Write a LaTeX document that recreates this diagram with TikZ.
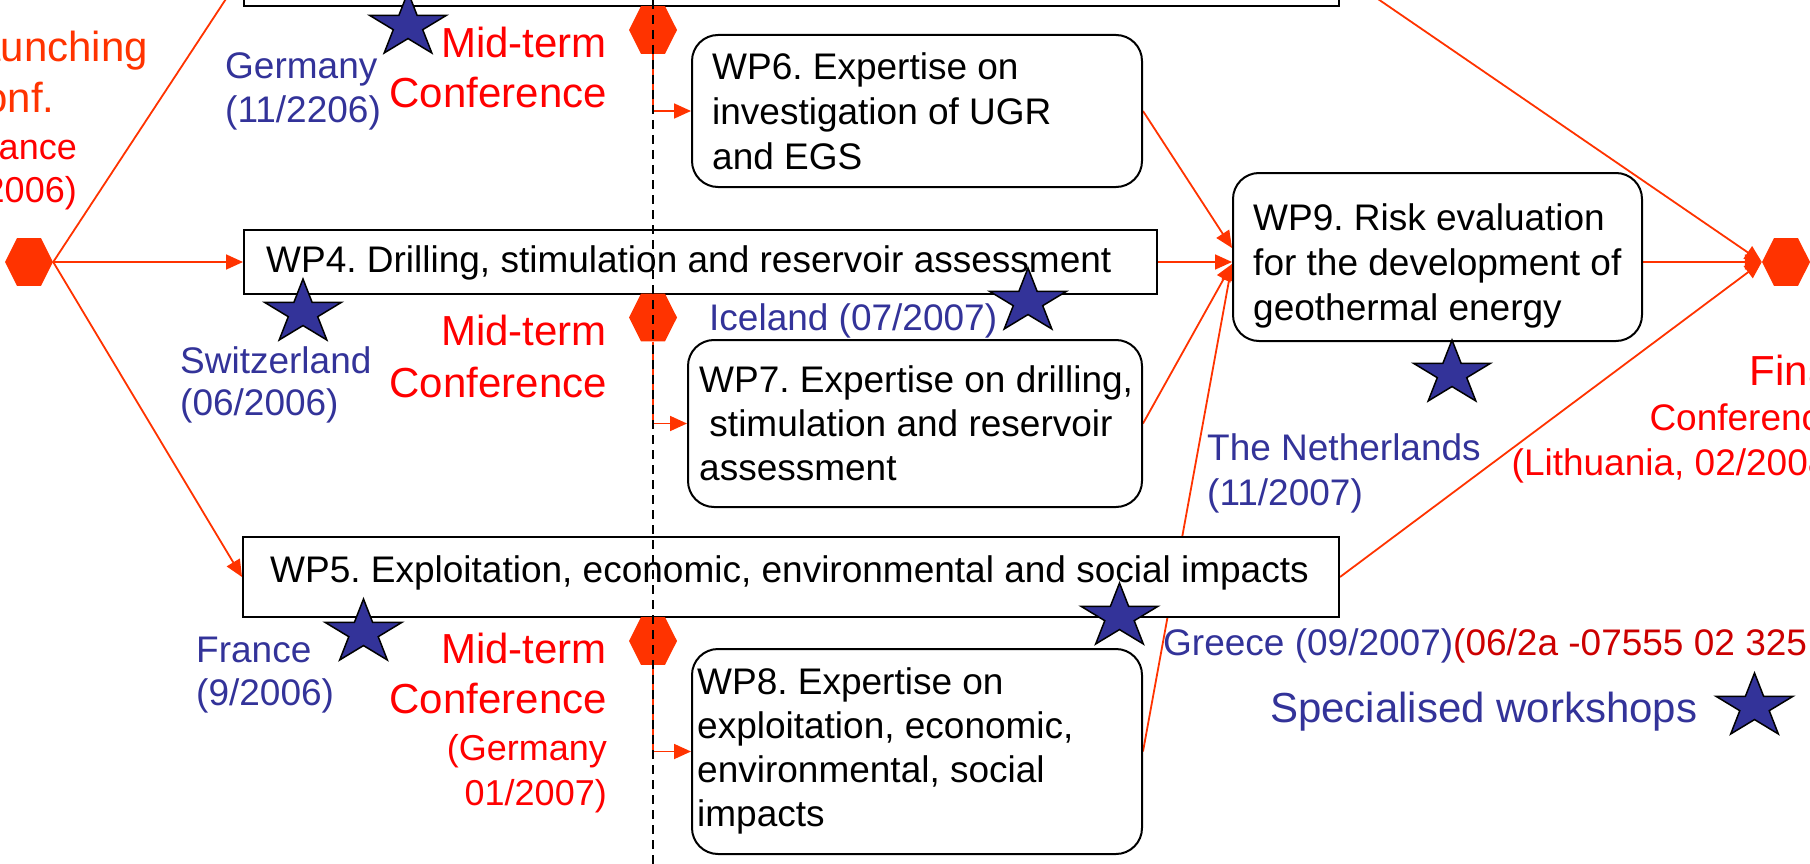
\documentclass[tikz,border=0pt]{standalone}
\usepackage{fontspec}
\setmainfont{Liberation Sans}
\usetikzlibrary{shapes.geometric,arrows.meta,calc}
\frenchspacing

\definecolor{hexred}{HTML}{FF3300}
\definecolor{midred}{HTML}{FF0000}
\definecolor{wsblue}{HTML}{333399}
\definecolor{numred}{HTML}{CC0000}

% stacked lines, baseline at the first line
\newcommand\linesL[1]{\begin{tabular}[t]{@{}l@{}}#1\end{tabular}}
\newcommand\linesR[1]{\begin{tabular}[t]{@{}r@{}}#1\end{tabular}}

\pgfdeclarelayer{back}
\pgfsetlayers{back,main}

\tikzset{
  conn/.style={draw=hexred, line width=1.8pt, -{Triangle[length=17pt,width=15pt]}},
  wpbox/.style={rectangle, draw=black, line width=2pt, fill=white, inner sep=0pt},
  wpround/.style={wpbox, rounded corners=26pt},
  hexa/.style={regular polygon, regular polygon sides=6, minimum size=48pt,
               inner sep=0pt, fill=hexred, yscale=1.15},
  wstar/.style={star, star points=5, star point ratio=2.618, minimum size=81pt,
                inner sep=0pt, fill=wsblue, draw=black, line width=1.5pt, yscale=0.832},
  bodytxt/.style={inner sep=0pt, anchor=base west, font=\fontsize{37}{45}\selectfont},
  bluetxt/.style={inner sep=0pt, anchor=base west, text=wsblue, font=\fontsize{37}{44}\selectfont},
  midtxt/.style={inner sep=0pt, anchor=base east, text=midred, font=\fontsize{42}{51}\selectfont},
  smalltxt/.style={inner sep=0pt, text=midred, font=\fontsize{36}{45}\selectfont},
}

\begin{document}
\begin{tikzpicture}[x=1pt, y=-1pt]
\clip (0,0) rectangle (1810,864);

% work package boxes
\node[wpbox, minimum width=1095pt, minimum height=66pt] (wp3) at (791.5,-27) {};
\node[wpbox, minimum width=913pt, minimum height=64pt] (wp4) at (700.5,262) {};
\node[wpbox, minimum width=1096pt, minimum height=80pt] (wp5) at (791,577) {};
\node[wpround, minimum width=450pt, minimum height=152pt] (wp6) at (917,111) {};
\node[wpround, minimum width=454pt, minimum height=167pt] (wp7) at (915,423.5) {};
\node[wpround, minimum width=450pt, minimum height=205pt] (wp8) at (917,751.5) {};
\node[wpround, minimum width=409pt, minimum height=168pt] (wp9) at (1437.5,257) {};

\node[bodytxt] (t4) at (266,272) {WP4. Drilling, stimulation and reservoir assessment};
\node[bodytxt] (t5) at (270,582) {WP5. Exploitation, economic, environmental and social impacts};
\node[bodytxt] (t6) at (712,80) {\linesL{WP6. Expertise on\\investigation of UGR\\and EGS}};
\node[bodytxt, font=\fontsize{37}{44}\selectfont] (t7) at (699,392)
  {\linesL{WP7. Expertise on drilling,\\\ stimulation and reservoir\\assessment}};
\node[bodytxt, font=\fontsize{37}{44.3}\selectfont] (t8) at (697,694)
  {\linesL{WP8. Expertise on\\exploitation, economic,\\environmental, social\\impacts}};
\node[bodytxt] (t9) at (1253,230) {\linesL{WP9. Risk evaluation\\for the development of\\geothermal energy}};

% conference milestones
\node[hexa] (h0) at (29,262) {};
\node[hexa] (hm1) at (653,30) {};
\node[hexa] (hm2) at (653,317.5) {};
\node[hexa] (hm3) at (653,641) {};
\node[hexa] (hf) at (1786,262) {};

% connectors behind the boxes
\begin{pgfonlayer}{back}
\draw[conn] (h0.east) -- (wp3.west);
\draw[conn] (h0.east) -- (wp4.west);
\draw[conn] (h0.east) -- (wp5.west);
\draw[conn] (hm1.south) |- (wp6.west);
\draw[conn] (hm2.south) |- (wp7.west);
\draw[conn] (hm3.south) |- (wp8.west);
\draw[conn] (wp6.east) -- ($(wp9.west)+(0,-9)$);
\draw[conn] (wp4.east) -- (wp9.west |- wp4.east);
\draw[conn] (wp7.east) -- ($(wp9.west)+(0,7)$);
\draw[conn] (wp8.east) -- ($(wp9.west)+(0,7)$);
\draw[conn] (wp9.east |- hf.west) -- (hf.west);
\draw[conn] (wp3.east) -- (hf.west);
\draw[conn] (wp5.east) -- (hf.west);
\end{pgfonlayer}

% workshop stars
\node[wstar] (sde) at (408,25.7) {};
\node[wstar] (sch) at (303,312.7) {};
\node[wstar] (sis) at (1028,301.7) {};
\node[wstar] (sfr) at (363.5,632.7) {};
\node[wstar] (sgr) at (1119.5,616.7) {};
\node[wstar] (snl) at (1452,373.7) {};
\node[wstar] (sleg) at (1754.5,706.7) {};

% workshop labels
\node[bluetxt] (lde) at (225,79) {\linesL{Germany\\(11/2206)}};
\node[bluetxt, font=\fontsize{37}{42}\selectfont] (lch) at (180,373) {\linesL{Switzerland\\(06/2006)}};
\node[bluetxt] (lis) at (709,330) {Iceland (07/2007)};
\node[bluetxt, font=\fontsize{37}{43}\selectfont] (lfr) at (196,662) {\linesL{France\\(9/2006)}};
\node[bluetxt, font=\fontsize{37}{45}\selectfont] (lnl) at (1207,460) {\linesL{The Netherlands\\(11/2007)}};
\node[bluetxt] (lgr) at (1163,655) {Greece (09/2007)\textcolor{numred}{(06/2a -07555 02 325}};
\node[bluetxt, font=\fontsize{42}{50}\selectfont] (lleg) at (1270,722) {Specialised workshops};

% conference labels
\node[inner sep=0pt, anchor=base west, text=hexred, font=\fontsize{42}{51}\selectfont] (llaunch) at (-46,62)
  {\linesL{Launching\\Conf.}};
\node[smalltxt, anchor=base east, font=\fontsize{36}{43}\selectfont] (llaunchd) at (77,160) {\linesR{(France\\03/2006)}};
\node[midtxt, font=\fontsize{42}{50}\selectfont] (lm1) at (607,58) {\linesR{Mid-term\\Conference}};
\node[midtxt, font=\fontsize{42}{52}\selectfont] (lm2) at (607,345) {\linesR{Mid-term\\Conference}};
\node[midtxt, font=\fontsize{42}{50}\selectfont] (lm3) at (607,663) {\linesR{Mid-term\\Conference}};
\node[smalltxt, anchor=base east] (lm3d) at (607,760) {\linesR{(Germany\\01/2007)}};
\node[midtxt] (lfin) at (1841,385) {Final};
\node[smalltxt, anchor=base east, font=\fontsize{37}{45}\selectfont] (lfind) at (1841,430)
  {\linesR{Conference\\(Lithuania, 02/2008)}};

% project mid-point
\coordinate (dtop) at (653,0);
\coordinate (dbot) at (653,864);
\draw[black, line width=1.6pt, dash pattern=on 9pt off 6pt] (dtop) -- (dbot);
\end{tikzpicture}
\end{document}
